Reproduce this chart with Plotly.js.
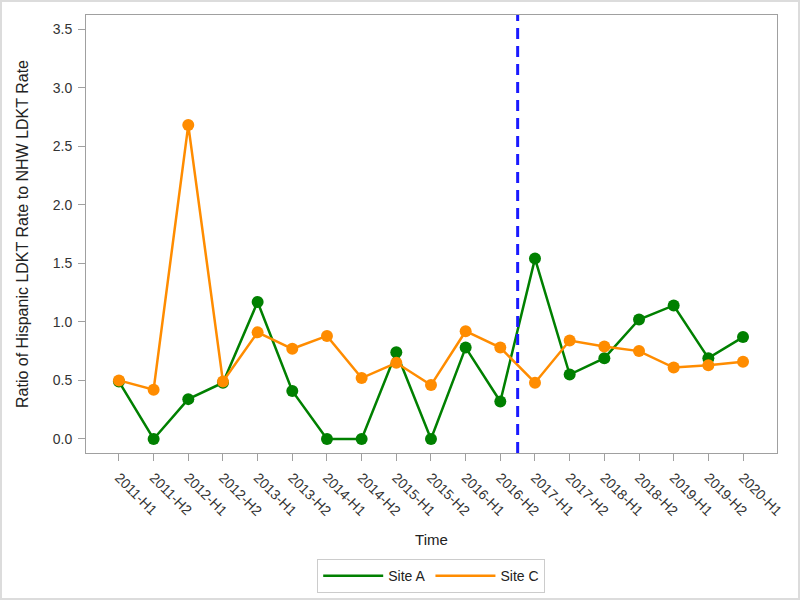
<!DOCTYPE html>
<html>
<head>
<meta charset="utf-8">
<script src="https://cdn.plot.ly/plotly-3.0.1.min.js"></script>
<style>
  html, body { margin: 0; padding: 0; background: #fff; }
  #wrap { position: relative; width: 800px; height: 600px; }
  #chart { position: absolute; left: 0; top: 0; width: 800px; height: 600px; }
  #frame { position: absolute; left: 0; top: 0; width: 800px; height: 600px; box-sizing: border-box;
           border: 2px solid #dcdcdc; pointer-events: none; }
</style>
</head>
<body>
<div id="wrap"><div id="chart"></div><div id="frame"></div></div>
<script>
const periods = ["2011-H1","2011-H2","2012-H1","2012-H2","2013-H1","2013-H2","2014-H1","2014-H2",
  "2015-H1","2015-H2","2016-H1","2016-H2","2017-H1","2017-H2","2018-H1","2018-H2","2019-H1","2019-H2","2020-H1"];
const siteA = [0.49, 0.00, 0.34, 0.48, 1.17, 0.41, 0.00, 0.00, 0.74, 0.00, 0.78, 0.32, 1.54, 0.55, 0.69, 1.02, 1.14, 0.69, 0.87];
const siteC = [0.50, 0.42, 2.68, 0.49, 0.91, 0.77, 0.88, 0.52, 0.65, 0.46, 0.92, 0.78, 0.48, 0.84, 0.79, 0.75, 0.61, 0.63, 0.66];
const seriesNames = ["Site A", "Site C"];
const yTicks = [0, 0.5, 1, 1.5, 2, 2.5, 3, 3.5];
const interventionPos = 11.5; // between 2016-H2 and 2017-H1

const green = "#008000";
const orange = "#FF8C00";
const idx = periods.map((_, i) => i);

const traces = [
  {x: idx, y: siteA, mode: "lines+markers", name: seriesNames[0], showlegend: false,
   line: {color: green, width: 2.5}, marker: {color: green, size: 12}},
  {x: idx, y: siteC, mode: "lines+markers", name: seriesNames[1], showlegend: false,
   line: {color: orange, width: 2.5}, marker: {color: orange, size: 12}},
  {x: [null], y: [null], mode: "lines", name: seriesNames[0], line: {color: green, width: 2.5}},
  {x: [null], y: [null], mode: "lines", name: seriesNames[1], line: {color: orange, width: 2.5}}
];

const axisFont = {family: "Liberation Sans, Arial, sans-serif", size: 14, color: "#333"};
const layout = {
  width: 800, height: 600,
  margin: {l: 86, r: 23, t: 15, b: 147},
  paper_bgcolor: "#fff", plot_bgcolor: "#fff",
  font: {family: "Liberation Sans, Arial, sans-serif", color: "#222"},
  xaxis: {
    automargin: true,
    range: [-0.95, 18.98], tickmode: "array", tickvals: idx, ticktext: periods,
    tickangle: 45, tickfont: axisFont, ticks: "outside", ticklen: 7, tickcolor: "#a0a0a0",
    ticklabelstandoff: 3,
    showgrid: false, zeroline: false, showline: true, linecolor: "#a0a0a0", linewidth: 1, mirror: true,
    title: {text: "Time", font: {size: 15, color: "#222"}, standoff: 16}
  },
  yaxis: {
    automargin: true,
    range: [-0.12, 3.62], tickmode: "array", tickvals: yTicks, tickformat: ".1f",
    tickfont: axisFont, ticks: "outside", ticklen: 7, tickcolor: "#a0a0a0",
    ticklabelstandoff: 3,
    showgrid: false, zeroline: false, showline: true, linecolor: "#a0a0a0", linewidth: 1, mirror: true,
    title: {text: "Ratio of Hispanic LDKT Rate to NHW LDKT Rate", font: {size: 16, color: "#222"}, standoff: 20}
  },
  shapes: [{
    type: "line", xref: "x", yref: "paper", x0: interventionPos, x1: interventionPos, y0: 0, y1: 1,
    line: {color: "#1a1aff", width: 3, dash: "11px,7px"}
  }],
  legend: {
    orientation: "h", x: 0.539, xanchor: "center", xref: "container", y: 0.068, yanchor: "top", yref: "container",
    itemwidth: 60,
    bordercolor: "#cccccc", borderwidth: 1, font: {size: 14, color: "#222"}
  },
  showlegend: true
};

Plotly.newPlot("chart", traces, layout, {displayModeBar: false, staticPlot: true});
</script>
</body>
</html>
